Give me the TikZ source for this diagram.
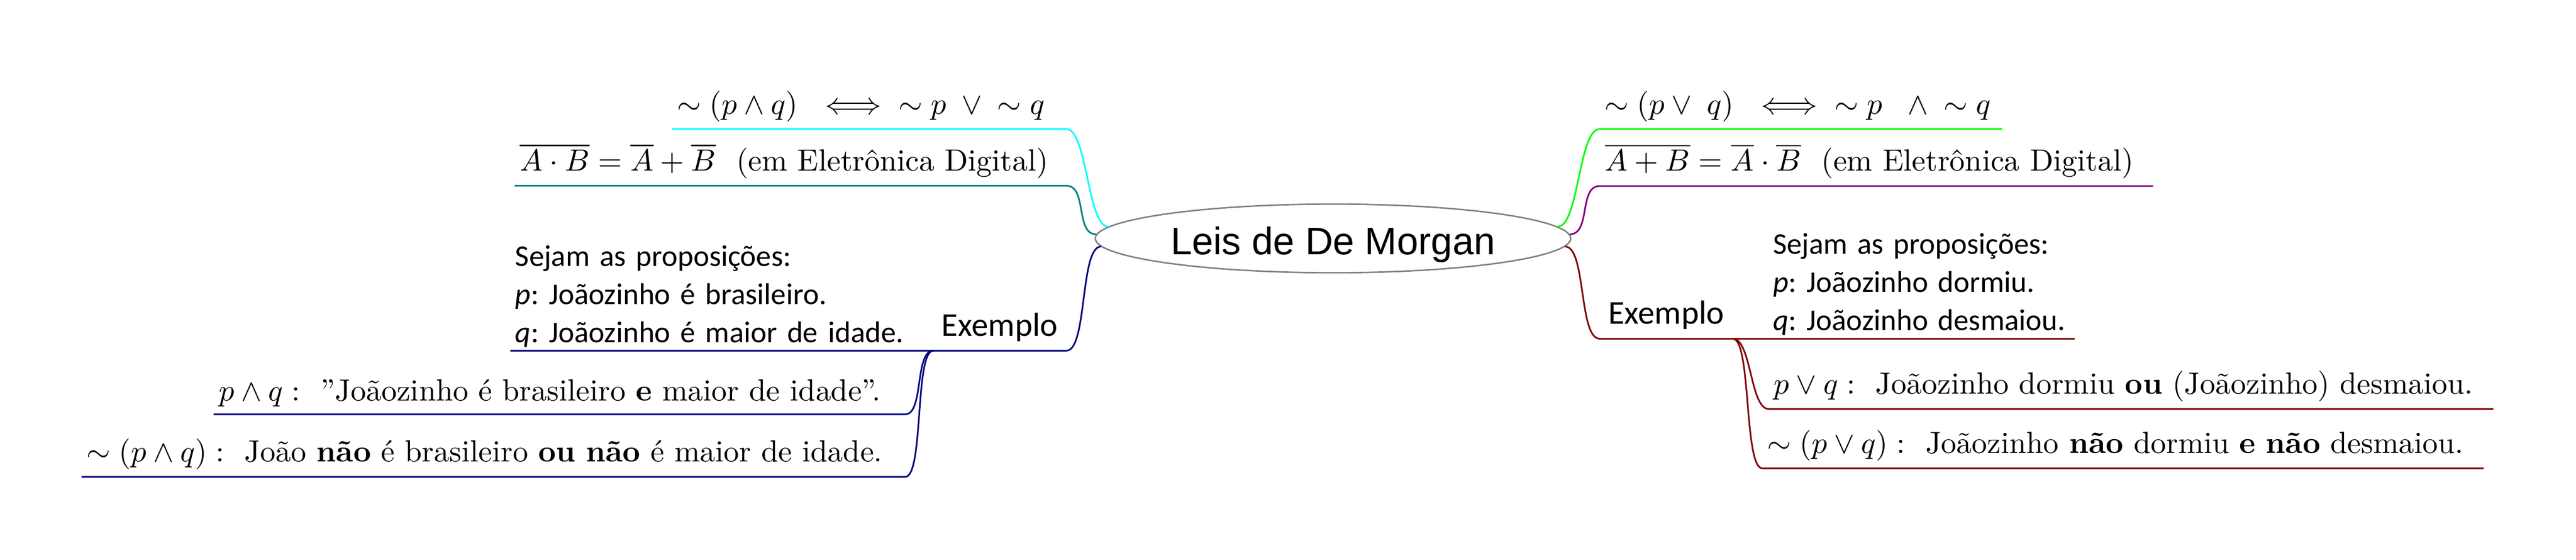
\documentclass[tikz,border=0pt]{standalone}
\usepackage{fix-cm}
\usepackage{fontspec}
\usetikzlibrary{shapes.geometric}
\newfontfamily\carlito{Carlito}
\newfontfamily\arial{Liberation Sans}
\definecolor{ciano}{RGB}{0,255,255}
\definecolor{azulverde}{RGB}{0,128,128}
\definecolor{verde}{RGB}{0,255,0}
\definecolor{marinho}{RGB}{0,0,128}
\definecolor{roxo}{RGB}{128,0,128}
\definecolor{vinho}{RGB}{128,0,0}
\begin{document}
\begin{tikzpicture}
\tikzset{raiz/.style={draw=gray, line width=0.5pt, ellipse, minimum width=5.61cm, minimum height=0.81cm, inner sep=0pt, text height=10.7pt, text depth=0pt, font=\arial\fontsize{12.9}{15}\selectfont}}
\tikzset{ramo/.style={inner xsep=1.5pt, inner ysep=2.3pt, align=left, font=\fontsize{10.3}{12.4}\selectfont\frenchspacing}}
\tikzset{exemplo/.style={inner xsep=1.5pt, inner ysep=2.9pt, minimum width=1.556cm, font=\carlito\fontsize{11.2}{13}\selectfont}}
\tikzset{nota/.style={inner xsep=1.5pt, inner ysep=1pt, align=left, font=\carlito\fontsize{10.1}{12.8}\selectfont\frenchspacing}}
\tikzset{liga/.style={line width=0.55pt}}
\useasboundingbox (0,0) rectangle (30.394,-6.606);
\node[raiz] (R) at (15.728,-2.8125) {Leis de De Morgan};
% lado esquerdo
\node[ramo, text width=4.53cm, anchor=south east] (E1) at (12.581,-1.522) {${\sim}\;(p\wedge q)\ \iff{\sim}\;p\;\vee\;{\sim}\;q$};
\node[ramo, text width=6.39cm, anchor=south east] (E2) at (12.581,-2.191) {$\overline{A\cdot B}=\overline{A}+\overline{B}$\ \ (em Eletrônica Digital)};
\node[exemplo, anchor=south east] (E3) at (12.581,-4.1375) {Exemplo};
\node[nota, text width=4.87cm, anchor=south east] (N1) at (E3.south west) {Sejam as proposições:\\ \textit{p}: Joãozinho é brasileiro.\\ \textit{q}: Joãozinho é maior de idade.};
\node[ramo, text width=8.04cm, anchor=south east] (E4) at (10.681,-4.8875) {$p\wedge q:$\ \ ''Joãozinho é brasileiro \textbf{e} maior de idade''.};
\node[ramo, text width=9.6cm, anchor=south east] (E5) at (10.681,-5.625) {$\sim(p\wedge q):$\ \ João \textbf{não} é brasileiro \textbf{ou} \textbf{não} é maior de idade.};
\draw[ciano, liga] (R.177) .. controls +(-0.25,0) and +(0.25,0) .. (E1.south east) -- (E1.south west);
\draw[azulverde, liga] (R.179) .. controls +(-0.25,0) and +(0.25,0) .. (E2.south east) -- (E2.south west);
\draw[marinho, liga] (R.182) .. controls +(-0.25,0) and +(0.25,0) .. (E3.south east) -- (N1.south west);
\draw[marinho, liga] (E3.south west) .. controls +(-0.22,0) and +(0.22,0) .. (E4.south east) -- (E4.south west);
\draw[marinho, liga] (E3.south west) .. controls +(-0.22,0) and +(0.22,0) .. (E5.south east) -- (E5.south west);
% lado direito
\node[ramo, text width=4.63cm, anchor=south west] (D1) at (18.875,-1.522) {${\sim}\;(p\vee\;q)\ \iff{\sim}\;p\ \;\wedge\;{\sim}\;q$};
\node[ramo, text width=6.41cm, anchor=south west] (D2) at (18.875,-2.194) {$\overline{A+B}=\overline{A}\cdot\overline{B}$\ \ (em Eletrônica Digital)};
\node[exemplo, anchor=south west] (D3) at (18.875,-3.996) {Exemplo};
\node[nota, text width=3.5cm, anchor=south west] (N2) at (20.86,-3.996) {Sejam as proposições:\\ \textit{p}: Joãozinho dormiu.\\ \textit{q}: Joãozinho desmaiou.};
\node[ramo, text width=8.43cm, anchor=south west] (D4) at (20.869,-4.825) {$p\vee q:$\ \ Joãozinho dormiu \textbf{ou} (Joãozinho) desmaiou.};
\node[ramo, text width=8.39cm, anchor=south west] (D5) at (20.794,-5.525) {$\sim(p\vee q):$\ \ Joãozinho \textbf{não} dormiu \textbf{e} \textbf{não} desmaiou.};
\draw[verde, liga] (R.3) .. controls +(0.25,0) and +(-0.25,0) .. (D1.south west) -- (D1.south east);
\draw[roxo, liga] (R.1) .. controls +(0.25,0) and +(-0.25,0) .. (D2.south west) -- (D2.south east);
\draw[vinho, liga] (R.358) .. controls +(0.25,0) and +(-0.25,0) .. (D3.south west) -- (N2.south east);
\draw[vinho, liga] (D3.south east) .. controls +(0.22,0) and +(-0.22,0) .. (D4.south west) -- (D4.south east);
\draw[vinho, liga] (D3.south east) .. controls +(0.22,0) and +(-0.22,0) .. (D5.south west) -- (D5.south east);
\end{tikzpicture}
\end{document}
